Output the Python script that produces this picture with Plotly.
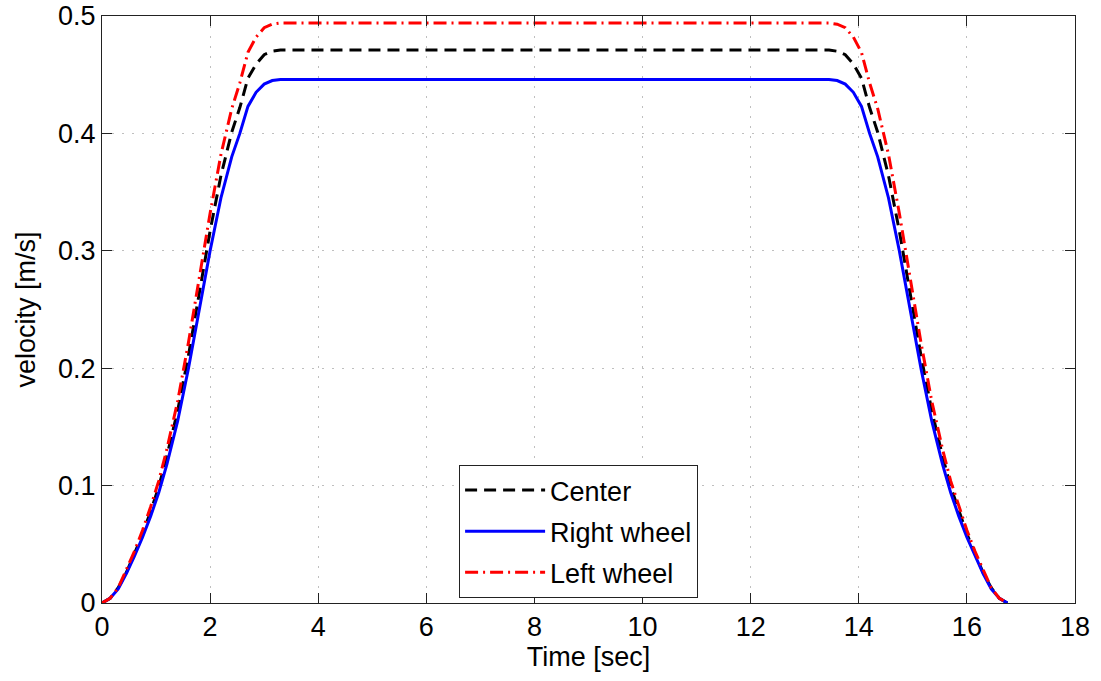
import plotly.graph_objects as go

# Time samples [sec]
t = [0, 0.15, 0.3, 0.45, 0.6, 0.75, 0.9, 1.05, 1.2, 1.4, 1.6, 1.8, 2.0, 2.2, 2.4, 2.55, 2.7, 2.85, 3.0, 3.15, 3.3,
     13.45, 13.6, 13.75, 13.9, 14.05, 14.2, 14.35, 14.55, 14.75, 14.95, 15.15, 15.35, 15.55, 15.7, 15.85, 16.0,
     16.15, 16.3, 16.45, 16.6, 16.75]

# Velocities [m/s]
v_right = [0, 0.004, 0.012, 0.025, 0.040, 0.056, 0.074, 0.094, 0.118, 0.155, 0.200, 0.250, 0.300, 0.345, 0.380,
           0.400, 0.423, 0.435, 0.442, 0.445, 0.446,
           0.446, 0.445, 0.442, 0.435, 0.423, 0.400, 0.380, 0.345, 0.300, 0.250, 0.200, 0.155, 0.118, 0.094,
           0.074, 0.056, 0.040, 0.025, 0.012, 0.004, 0]
v_center = [0, 0.004, 0.013, 0.026, 0.042, 0.059, 0.078, 0.099, 0.125, 0.164, 0.211, 0.264, 0.317, 0.364, 0.401,
            0.422, 0.447, 0.459, 0.467, 0.470, 0.471,
            0.471, 0.470, 0.467, 0.459, 0.447, 0.422, 0.401, 0.364, 0.317, 0.264, 0.211, 0.164, 0.125, 0.099,
            0.078, 0.059, 0.042, 0.026, 0.013, 0.004, 0]
v_left = [0, 0.004, 0.013, 0.028, 0.044, 0.062, 0.082, 0.104, 0.131, 0.172, 0.222, 0.277, 0.332, 0.382, 0.421,
          0.443, 0.469, 0.482, 0.490, 0.493, 0.494,
          0.494, 0.493, 0.490, 0.482, 0.469, 0.443, 0.421, 0.382, 0.332, 0.277, 0.222, 0.172, 0.131, 0.104,
          0.082, 0.062, 0.044, 0.028, 0.013, 0.004, 0]

x_ticks = [0, 2, 4, 6, 8, 10, 12, 14, 16, 18]
y_ticks = [0, 0.1, 0.2, 0.3, 0.4, 0.5]
y_tick_labels = ["0", "0.1", "0.2", "0.3", "0.4", "0.5"]

FONT = "Liberation Sans, Arial, Helvetica, sans-serif"
FS = 27

fig = go.Figure()
fig.add_trace(go.Scatter(x=t, y=v_center, mode="lines", name="Center", legendgroup="c",
                         line=dict(color="black", width=3, dash="12px,7px")))
fig.add_trace(go.Scatter(x=t, y=v_right, mode="lines", name="Right wheel", legendgroup="r",
                         line=dict(color="#0000ff", width=3)))
fig.add_trace(go.Scatter(x=t, y=v_left, mode="lines", name="Left wheel", legendgroup="l",
                         line=dict(color="#ff0000", width=3, dash="13px,5px,2px,5px")))

axis_common = dict(
    showline=True, linecolor="#222222", linewidth=1, mirror="allticks",
    ticks="inside", ticklen=10, tickcolor="#222222", tickwidth=1,
    showgrid=True, gridcolor="#bfbfbf", gridwidth=1, griddash="2px,8px",
    zeroline=False, automargin=False,
    tickfont=dict(family=FONT, size=FS, color="black"),
)

fig.update_xaxes(range=[0, 18], tickvals=x_ticks, ticktext=[str(v) for v in x_ticks],
                 title=dict(text="Time [sec]", font=dict(family=FONT, size=FS, color="black"), standoff=4),
                 **axis_common)
fig.update_yaxes(range=[0, 0.5], tickvals=y_ticks, ticktext=y_tick_labels,
                 title=dict(text="velocity [m/s]", font=dict(family=FONT, size=FS, color="black"), standoff=14),
                 **axis_common)

fig.update_layout(
    width=1101, height=681,
    margin=dict(l=102, r=26, t=16, b=78),
    paper_bgcolor="white", plot_bgcolor="white",
    font=dict(family=FONT, size=FS, color="black"),
    legend=dict(x=0.367, y=0.235, xanchor="left", yanchor="top",
                bgcolor="white", bordercolor="#222222", borderwidth=1,
                font=dict(family=FONT, size=FS, color="black"),
                itemwidth=80, tracegroupgap=3, traceorder="grouped"),
    showlegend=True,
)

fig.write_html("out.html", config={"displayModeBar": False},
               post_script="document.body.style.margin='0px';")
